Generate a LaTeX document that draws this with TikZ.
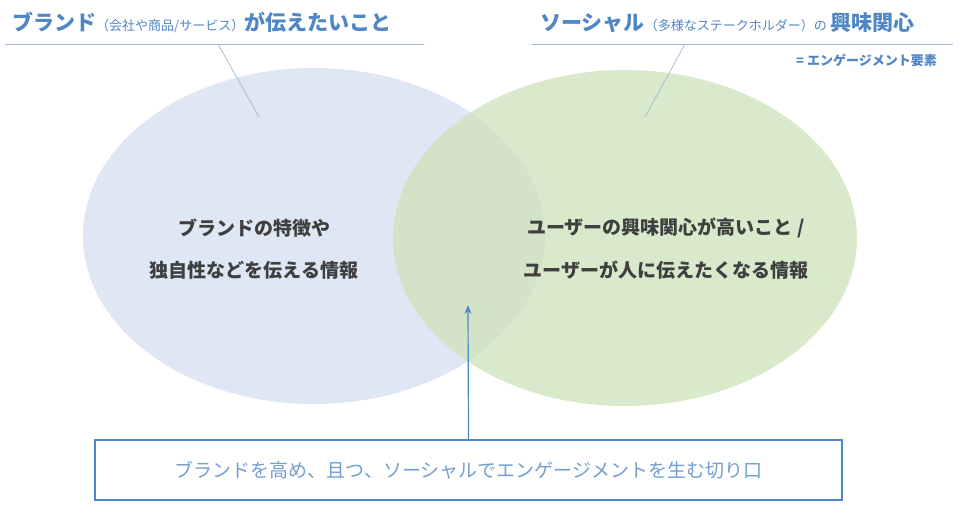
\documentclass[tikz,border=0pt]{standalone}
\usepackage{fontspec}
\setmainfont{Noto Sans CJK JP}
\usetikzlibrary{arrows.meta}
\definecolor{hblue}{HTML}{4F86C6}
\definecolor{lblue}{HTML}{9DB8DA}
\definecolor{bfill}{HTML}{DFE6F4}
\definecolor{gfill}{HTML}{CFE3BE}
\definecolor{tgray}{HTML}{3F3F3F}
\tikzset{body/.style={text=tgray,font=\bfseries\fontsize{19}{22}\selectfont},
 head/.style={text=hblue,font=\bfseries\fontsize{21}{24}\selectfont,inner sep=0pt},
 lead/.style={draw=lblue,line width=0.7pt}}
\begin{document}
\begin{tikzpicture}[x=1pt,y=-1pt]
\useasboundingbox (0,0) rectangle (960,516);
\fill[bfill] (314,236) ellipse [x radius=231,y radius=168];
\fill[gfill,opacity=0.8] (625,238) ellipse [x radius=232,y radius=168];
% headers
\node[head,anchor=base west] (h1) at (12,31) {ブランド{\fontsize{13}{15}\selectfont\mdseries（会社や商品/サービス）}が伝えたいこと};
\node[head,anchor=base west] (h2) at (540,31) {ソーシャル{\fontsize{13}{15}\selectfont\mdseries（多様なステークホルダー）の}\,興味関心};
\node[text=hblue,font=\bfseries\fontsize{13}{15}\selectfont,anchor=base east,inner sep=0pt] (h3) at (937,66) {= エンゲージメント要素};
\coordinate (l1a) at (5,44); \coordinate (l1b) at (424,44);
\coordinate (l2a) at (532,44); \coordinate (l2b) at (953,44);
\draw[lead] (l1a) -- (l1b);
\draw[lead] (l2a) -- (l2b);
\coordinate (p1) at (218,44); \coordinate (q1) at (259,117);
\coordinate (p2) at (685,44); \coordinate (q2) at (645,117);
\draw[lead] (p1) -- (q1);
\draw[lead] (p2) -- (q2);
% body
\node[body] (b1) at (254,228) {ブランドの特徴や};
\node[body] (b2) at (254,270) {独自性などを伝える情報};
\node[body] (c1) at (666,228) {ユーザーの興味関心が高いこと /};
\node[body] (c2) at (666,270) {ユーザーが人に伝えたくなる情報};
% box
\node[draw=hblue,line width=1.2pt,minimum width=747,minimum height=60,text=hblue!80,font=\fontsize{19}{22}\selectfont] (box) at (468.5,470) {ブランドを高め、且つ、ソーシャルでエンゲージメントを生む切り口};
\coordinate (tip) at (468,305);
\draw[hblue,line width=1.2pt,-{Stealth[length=9pt,width=7pt]}] (box.north) -- (tip);
\end{tikzpicture}
\end{document}
